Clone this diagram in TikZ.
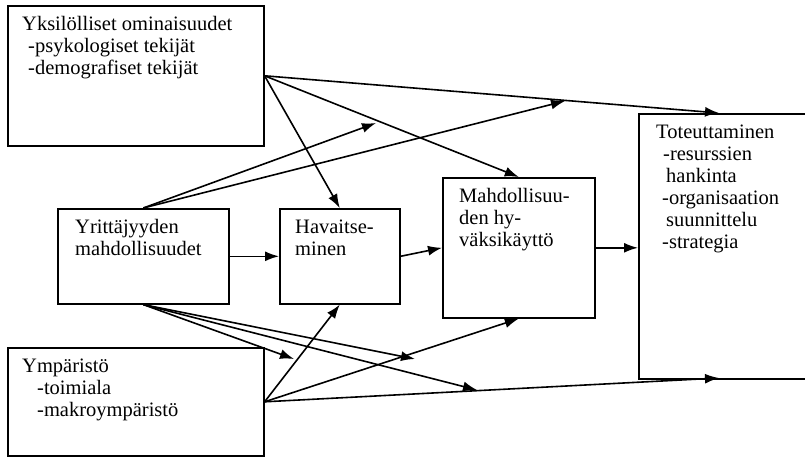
\documentclass[tikz,border=0pt]{standalone}
\usepackage{fontspec}
\setmainfont{Liberation Serif}
\usetikzlibrary{arrows.meta}
\newcommand\boxlines[1]{\begin{tabular}[t]{@{}l@{}}#1\end{tabular}}
\begin{document}
\begin{tikzpicture}[x=1pt,y=-1pt,
  box/.style={draw, line width=1.6pt, rectangle, inner sep=0pt, anchor=north west},
  lbl/.style={anchor=base west, inner sep=0pt, font=\fontsize{20.5}{22}\selectfont},
  arr/.style={line width=1.6pt, -{Latex[length=14pt,width=10pt]}}]
\useasboundingbox (0,0) rectangle (805,457);
\clip (0,0) rectangle (805,457);
% boxes
\node[box, minimum width=256pt, minimum height=140pt] (yks) at (7,5) {};
\node[box, minimum width=171pt, minimum height=95pt] (yri) at (57,208) {};
\node[box, minimum width=120pt, minimum height=95pt] (hav) at (279,208) {};
\node[box, minimum width=152pt, minimum height=140pt] (mah) at (442,177) {};
\node[box, minimum width=180pt, minimum height=265pt] (tot) at (638,113) {};
\node[box, minimum width=256pt, minimum height=108pt] (ymp) at (7,347) {};
% texts
\node[lbl] (tyks) at (22,31) {\boxlines{Yksilölliset ominaisuudet\\ \hspace*{6pt}-psykologiset tekijät\\ \hspace*{6pt}-demografiset tekijät}};
\node[lbl] (tyri) at (75,233) {\boxlines{Yrittäjyyden\\ mahdollisuudet}};
\node[lbl] (thav) at (295,233) {\boxlines{Havaitse-\\ minen}};
\node[lbl] (tmah) at (459,202) {\boxlines{Mahdollisuu-\\ den hy-\\ väksikäyttö}};
\node[lbl] (ttot) at (656,139) {\boxlines{Toteuttaminen\\ \hspace*{7pt}-resurssien\\ \hspace*{10pt}hankinta\\ \hspace*{6pt}-organisaation\\ \hspace*{10pt}suunnittelu\\ \hspace*{6pt}-strategia}};
\node[lbl] (tymp) at (22,372) {\boxlines{Ympäristö\\ \hspace*{15pt}-toimiala\\ \hspace*{15pt}-makroympäristö}};
% free ends
\coordinate (tottop) at (719,113);
\coordinate (totbot) at (719,378);
\coordinate (c1) at (376,123);
\coordinate (c2) at (565,101);
\coordinate (c3) at (294,359);
\coordinate (c4) at (415,359);
\coordinate (c5) at (477,390);
% connectors
\draw[arr] (yks.east) -- (hav.north);
\draw[arr] (yks.east) -- (mah.north);
\draw[arr] (yks.east) -- (tottop);
\draw[arr] (yri.north) -- (c1);
\draw[arr] (yri.north) -- (c2);
\draw[arr] (yri.east) -- (hav.west);
\draw[arr] (hav.east) -- (mah.west);
\draw[arr] (mah.east) -- (mah.east -| tot.west);
\draw[arr] (yri.south) -- (c3);
\draw[arr] (yri.south) -- (c4);
\draw[arr] (yri.south) -- (c5);
\draw[arr] (ymp.east) -- (hav.south);
\draw[arr] (ymp.east) -- (mah.south);
\draw[arr] (ymp.east) -- (totbot);
\end{tikzpicture}
\end{document}
